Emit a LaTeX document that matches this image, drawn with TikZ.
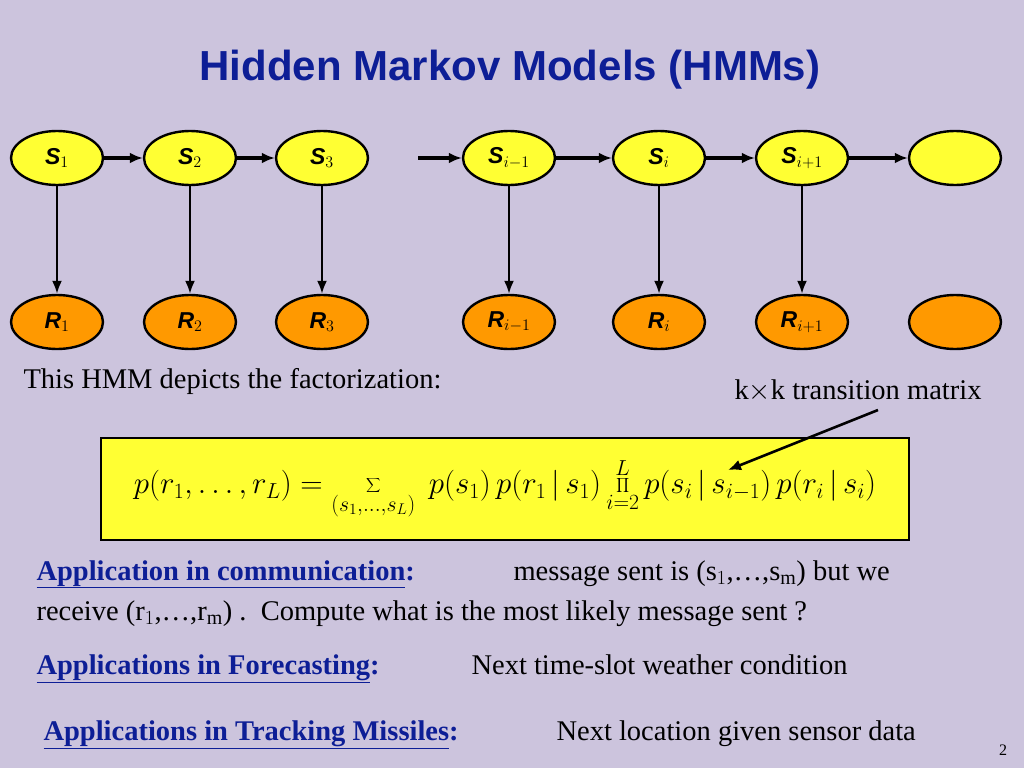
\RequirePackage{fix-cm}
\documentclass[tikz,border=0pt]{standalone}
\usepackage{fontspec}
\setmainfont{Liberation Serif}
\newfontfamily\headfont{Liberation Sans}
\usetikzlibrary{shapes.geometric}
\definecolor{slidebg}{HTML}{CCC4DD}
\definecolor{titleblue}{HTML}{0D1E96}
\definecolor{statey}{HTML}{FFFF33}
\definecolor{obso}{HTML}{FF9900}
\newcommand{\bodysize}{\fontsize{28.5}{32}\selectfont}
\tikzset{
  hstate/.style={draw,ellipse,line width=2.4pt,minimum width=92pt,minimum height=54pt,inner sep=0pt,
    fill=statey,font=\headfont\fontsize{23}{25}\selectfont\bfseries\itshape},
  hobs/.style={hstate,fill=obso},
  harrow/.style={-{Latex[length=13pt,width=11pt]},line width=3.2pt},
  hlink/.style={-{Latex[length=13pt,width=10pt]},line width=2.2pt},
  apptitle/.style={anchor=base west,text=titleblue,font=\bodysize\bfseries},
  apptext/.style={anchor=base west,font=\bodysize}
}
\usetikzlibrary{arrows.meta}
\begin{document}
\begin{tikzpicture}[x=1pt,y=-1pt]
        \fill[slidebg] (0,0) rectangle (1024,768);
        \node[text=titleblue,font=\headfont\fontsize{42}{46}\selectfont\bfseries] (title) at (510,70) {Hidden Markov Models (HMMs)};
        % hidden states
        \node[hstate] (s1) at (57,158) {S$_1$};
        \node[hstate] (s2) at (190,158) {S$_2$};
        \node[hstate] (s3) at (322,158) {S$_3$};
        \node[hstate] (sim) at (509,158) {S$_{i-1}$};
        \node[hstate] (si) at (659,158) {S$_i$};
        \node[hstate] (sip) at (802,158) {S$_{i+1}$};
        \node[hstate] (snext) at (955,158) {};
        \coordinate (sin) at (418,158);
        \draw[harrow] (s1) -- (s2);
        \draw[harrow] (s2) -- (s3);
        \draw[harrow] (sin) -- (sim);
        \draw[harrow] (sim) -- (si);
        \draw[harrow] (si) -- (sip);
        \draw[harrow] (sip) -- (snext);
        % observations
        \node[hobs] (r1) at (57,322) {R$_1$};
        \node[hobs] (r2) at (190,322) {R$_2$};
        \node[hobs] (r3) at (322,322) {R$_3$};
        \node[hobs] (rim) at (509,322) {R$_{i-1}$};
        \node[hobs] (ri) at (659,322) {R$_i$};
        \node[hobs] (rip) at (802,322) {R$_{i+1}$};
        \node[hobs] (rnext) at (955,322) {};
        \draw[hlink] (s1) -- (r1);
        \draw[hlink] (s2) -- (r2);
        \draw[hlink] (s3) -- (r3);
        \draw[hlink] (sim) -- (rim);
        \draw[hlink] (si) -- (ri);
        \draw[hlink] (sip) -- (rip);
        % factorization
        \node[apptext] (intro) at (20,388) {This HMM depicts the factorization:};
        \node[draw,line width=2.8pt,fill=statey,minimum width=808pt,minimum height=102pt,inner sep=0pt] (formula) at (505,489)
          {\fontsize{31}{34}\selectfont$\displaystyle p(r_1,\ldots,r_L)=\sum_{(s_1,\ldots,s_L)}\; p(s_1)\,p(r_1\,|\,s_1)\prod_{i=2}^{L}p(s_i\,|\,s_{i-1})\,p(r_i\,|\,s_i)$};
        \node[font=\bodysize] (tmat) at (858,391) {k$\times$k transition matrix};
        \coordinate (tsrc) at (878,410);
        \coordinate (tpt) at (728,470);
        \draw[harrow,line width=2.6pt] (tsrc) -- (tpt);
        % applications
        \node[apptitle] (comm) at (33,580) {\underline{Application in communication}:};
        \node[apptext] (commtxt) at (510,580) {message sent is (s$_1$,\ldots,s$_\mathrm{m}$) but we};
        \node[apptext] (commtxt2) at (33,620) {receive (r$_1$,\ldots,r$_\mathrm{m}$) .\ \ Compute what is the most likely message sent ?};
        \node[apptitle] (fore) at (33,674) {\underline{Applications in Forecasting}:};
        \node[apptext] (foretxt) at (468,674) {Next time-slot weather condition};
        \node[apptitle] (track) at (40,740) {\underline{Applications in Tracking Missiles}:};
        \node[apptext] (tracktxt) at (553,740) {Next location given sensor data};
        \node[font=\fontsize{16}{18}\selectfont] (pagenum) at (1003,750) {2};
\end{tikzpicture}
\end{document}
